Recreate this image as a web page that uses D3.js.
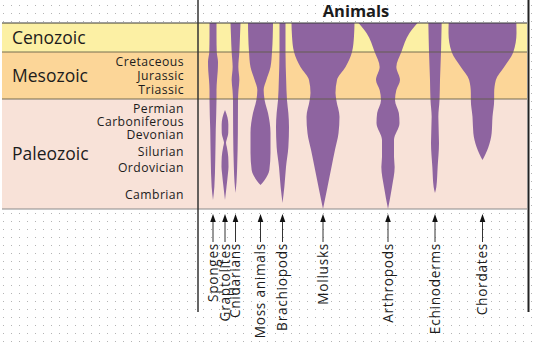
<!DOCTYPE html>
<html>
<head>
<meta charset="utf-8">
<script src="https://cdn.jsdelivr.net/npm/d3@7"></script>
<style>
  body { margin: 0; background: #fff; }
  svg { display: block; }
  text { font-family: "Open Sans", sans-serif; fill: #1c1c1c; }
</style>
</head>
<body>
<svg id="chart" width="533" height="343"></svg>
<script>
// Geologic eras (millions of years ago)
const eraNames = ["Cenozoic", "Mesozoic", "Paleozoic"];
const eraStart = [0, 66, 251];
const eraEnd = [66, 251, 541];
const eraColors = ["#fcf0a4", "#fcd698", "#f8e2d8"];

// Periods and the age at which each name is set
const periodNames = ["Cretaceous", "Jurassic", "Triassic", "Permian", "Carboniferous",
                     "Devonian", "Silurian", "Ordovician", "Cambrian"];
const periodLabelAge = [103, 158, 214, 276, 310, 345, 389, 433, 502];

// Animal groups and their column along the chart
const cladeNames = ["Sponges", "Graptolites", "Cnidarians", "Moss animals", "Brachiopods",
                    "Mollusks", "Arthropods", "Echinoderms", "Chordates"];
const cladeColumn = [15, 27, 37.5, 62.5, 84.5, 125, 190, 237, 284.5];

// Relative diversity through time: [age (Ma), diversity]
const sponges = [[0, 7], [30, 7], [66, 7.5], [105, 10], [140, 9.5], [176, 8], [216, 7], [254, 7],
                 [333, 5.5], [412, 4.5], [483, 2.7], [517, 0]];
const graptolites = [[280, 0], [300, 5], [318, 6.7], [340, 6.5], [358, 3.5], [366, 2], [380, 4],
                     [404, 6.5], [430, 7], [446, 6], [483, 3], [517, 0]];
const cnidarians = [[0, 10], [30, 9], [66, 7.7], [125, 5.7], [176, 7.7], [216, 6], [254, 5],
                    [341, 4.7], [430, 3.3], [470, 2], [499, 0]];
const mossAnimals = [[0, 25], [30, 24.5], [66, 23], [125, 20], [176, 11.7], [216, 6.3], [254, 8.3],
                     [288, 15], [341, 20], [393, 20], [438, 17.7], [452, 14], [465, 8], [478, 0]];
const brachiopods = [[0, 6], [66, 6], [176, 7.3], [254, 9], [288, 11.7], [325, 13], [378, 11.7],
                     [430, 7], [483, 3.7], [525, 0]];
const mollusks = [[0, 63], [30, 62], [66, 58], [125, 45], [176, 28], [227, 25], [254, 26.7],
                  [298, 33], [341, 31], [385, 24], [430, 17], [483, 9], [541, 0]];
const arthropods = [[0, 59], [23, 43], [66, 26.7], [125, 16.7], [176, 24], [216, 16.7], [254, 14],
                    [288, 21.7], [314, 23], [359, 12], [404, 12], [430, 13.3], [483, 8], [541, 0]];
const echinoderms = [[0, 13.3], [66, 12], [176, 10], [254, 9], [298, 6.7], [367, 8], [430, 5.3],
                     [483, 2.7], [499, 0]];
const chordates = [[0, 67.7], [23, 68], [66, 61.7], [125, 43.3], [176, 26.7], [227, 23.3],
                   [254, 23.3], [298, 20], [341, 18.3], [378, 11.7], [412, 0]];

const cladeProfiles = [sponges, graptolites, cnidarians, mossAnimals, brachiopods,
                       mollusks, arthropods, echinoderms, chordates];

const svg = d3.select("#chart");
const W = 533, H = 343;

// Time runs downward; each era gets its own stretch of the column
const y = d3.scaleLinear().domain([0, 66, 251, 541]).range([23, 52, 99, 209]);
const x = d3.scaleLinear().domain([0, 330]).range([198, 528]);
const w = d3.scaleLinear().domain([0, 70]).range([0, 70]);

const bandLeft = 2, bandRight = 527;

// Dotted background grid
const defs = svg.append("defs");
defs.append("pattern")
  .attr("id", "dots").attr("width", 8).attr("height", 8)
  .attr("patternUnits", "userSpaceOnUse").attr("x", 3).attr("y", 5)
  .append("rect").attr("width", 1).attr("height", 1).attr("fill", "#b4b4b4");
svg.append("rect").attr("width", W).attr("height", H).attr("fill", "#fff");
svg.append("rect").attr("width", W).attr("height", H).attr("fill", "url(#dots)");

// Era bands
svg.append("g").selectAll("rect")
  .data(eraNames)
  .join("rect")
  .attr("x", bandLeft)
  .attr("width", bandRight - bandLeft)
  .attr("y", (d, i) => y(eraStart[i]))
  .attr("height", (d, i) => y(eraEnd[i]) - y(eraStart[i]))
  .attr("fill", (d, i) => eraColors[i]);

// Spindles
const spindle = cx => d3.area()
  .curve(d3.curveMonotoneY)
  .y(d => y(d[0]))
  .x0(d => cx - w(d[1]) / 2)
  .x1(d => cx + w(d[1]) / 2);

svg.append("g").selectAll("path")
  .data(cladeProfiles)
  .join("path")
  .attr("d", (d, i) => spindle(x(cladeColumn[i]))(d))
  .attr("fill", "#8e64a0");

// Era boundary rules
const boundaries = [0, 66, 251];
svg.append("g").selectAll("line")
  .data(boundaries)
  .join("line")
  .attr("x1", bandLeft).attr("x2", bandRight)
  .attr("y1", d => y(d)).attr("y2", d => y(d))
  .attr("stroke", (d, i) => i === 0 ? "#3a3a3a" : "#5f5d45")
  .attr("stroke-opacity", (d, i) => i === 0 ? 1 : 0.85)
  .attr("stroke-width", 1.2);
svg.append("line")
  .attr("x1", bandLeft).attr("x2", bandRight)
  .attr("y1", y(541)).attr("y2", y(541))
  .attr("stroke", "#8a8a8a").attr("stroke-width", 1.2);

// Frame verticals
svg.append("line").attr("x1", 198).attr("x2", 198).attr("y1", 0).attr("y2", 312)
  .attr("stroke", "#333").attr("stroke-width", 1.5);
svg.append("line").attr("x1", 528.5).attr("x2", 528.5).attr("y1", 0).attr("y2", 312)
  .attr("stroke", "#222").attr("stroke-width", 2);

// Era names
svg.append("g").selectAll("text")
  .data(eraNames)
  .join("text")
  .attr("x", 12)
  .attr("y", (d, i) => (y(eraStart[i]) + y(eraEnd[i])) / 2)
  .attr("dy", "0.36em")
  .attr("font-size", 17.5)
  .text(d => d);

// Period names
svg.append("g").selectAll("text")
  .data(periodNames)
  .join("text")
  .attr("x", 184)
  .attr("y", (d, i) => y(periodLabelAge[i]))
  .attr("dy", "0.36em")
  .attr("text-anchor", "end")
  .attr("font-size", 12.2)
  .attr("letter-spacing", 0.45)
  .text(d => d);

// Title
svg.append("text")
  .attr("x", 356).attr("y", 17)
  .attr("text-anchor", "middle")
  .attr("font-size", 16.5)
  .attr("font-weight", "bold")
  .text("Animals");

// Arrows and group names below the chart
const arrowTip = 214, arrowBase = 222, labelTop = 242;
const pointers = svg.append("g").selectAll("g")
  .data(cladeNames)
  .join("g")
  .attr("transform", (d, i) => `translate(${x(cladeColumn[i])},0)`);

pointers.append("line")
  .attr("y1", arrowBase - 1).attr("y2", labelTop)
  .attr("stroke", "#333").attr("stroke-width", 1);
pointers.append("path")
  .attr("d", `M0,${arrowTip}L2.8,${arrowBase}L-2.8,${arrowBase}Z`)
  .attr("fill", "#111");
pointers.append("text")
  .attr("transform", `translate(0,${labelTop + 1}) rotate(-90)`)
  .attr("text-anchor", "end")
  .attr("dy", "0.36em")
  .attr("font-size", 13.6)
  .attr("letter-spacing", 0.75)
  .text(d => d);
</script>
</body>
</html>
